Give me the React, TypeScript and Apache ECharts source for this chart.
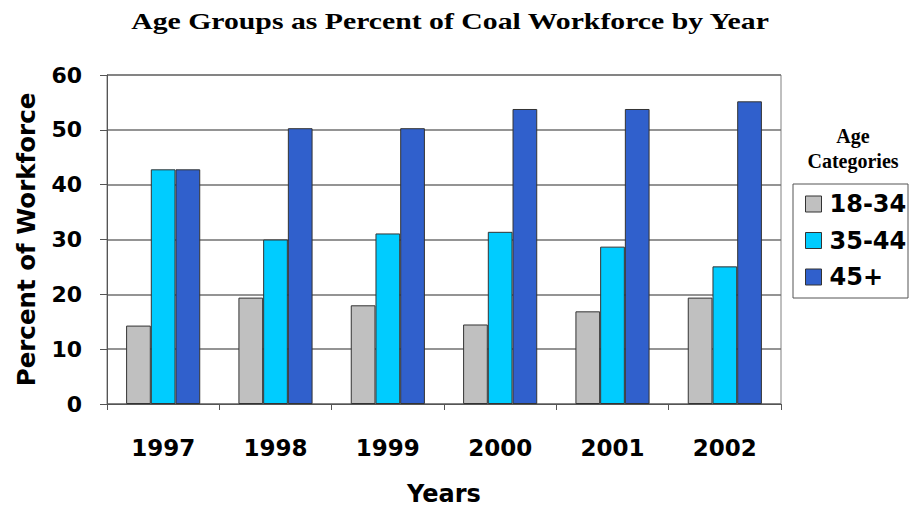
import React, { useEffect, useRef } from "react";
import * as echarts from "echarts";

const years = ["1997", "1998", "1999", "2000", "2001", "2002"];
const seriesNames = ["18-34", "35-44", "45+"];
const age18to34 = [14.3, 19.4, 18.0, 14.5, 16.9, 19.4];
const age35to44 = [42.8, 30.0, 31.1, 31.4, 28.7, 25.1];
const age45plus = [42.8, 50.3, 50.3, 53.8, 53.8, 55.2];
const colors = ["#C0C0C0", "#00CCFF", "#3060CC"];

export default function App() {
  const ref = useRef<HTMLDivElement>(null);
  useEffect(() => {
    if (!ref.current) return;
    document.body.style.margin = "0";
    const chart = echarts.init(ref.current, undefined, { renderer: "svg" });
    const sansBold = { fontFamily: "DejaVu Sans", fontWeight: "bold" as const, color: "#000" };
    const values = [age18to34, age35to44, age45plus];
    chart.setOption({
      animation: false,
      backgroundColor: "#fff",
      grid: {
        left: 107,
        right: 131,
        top: 75,
        bottom: 104,
        outerBoundsMode: "none",
        containLabel: false,
        show: true,
        borderColor: "#808080",
        borderWidth: 1,
      },
      xAxis: {
        type: "category",
        data: years,
        name: "Years",
        nameLocation: "middle",
        nameGap: 78,
        nameTextStyle: { ...sansBold, fontSize: 24 },
        axisLine: { lineStyle: { color: "#555" } },
        axisTick: { show: true, length: 6, lineStyle: { color: "#555" } },
        axisLabel: { ...sansBold, fontSize: 23, margin: 32 },
      },
      yAxis: {
        type: "value",
        min: 0,
        max: 60,
        interval: 10,
        name: "Percent of Workforce",
        nameLocation: "middle",
        nameGap: 68,
        nameTextStyle: { ...sansBold, fontSize: 24.5 },
        axisLine: { show: true, lineStyle: { color: "#555" } },
        axisTick: { show: true, length: 7, lineStyle: { color: "#555" } },
        axisLabel: { ...sansBold, fontSize: 22, margin: 25 },
        splitLine: { lineStyle: { color: "#707070", width: 1.5 } },
      },
      legend: {
        orient: "vertical",
        left: 805,
        top: 192,
        padding: 0,
        itemWidth: 16,
        itemHeight: 16,
        itemGap: 12.5,
        icon: "rect",
        itemStyle: { borderColor: "#333", borderWidth: 1 },
        textStyle: { ...sansBold, fontSize: 24, lineHeight: 24, padding: [0, 0, 0, 3] },
        data: seriesNames,
      },
      graphic: [
        {
          type: "text",
          x: 450,
          y: 21,
          scaleX: 1.24,
          style: {
            text: "Age Groups as Percent of Coal Workforce by Year",
            textAlign: "center",
            textVerticalAlign: "middle",
            font: "bold 24px 'Liberation Serif'",
            fill: "#000",
          },
        },
        {
          type: "rect",
          shape: { x: 793, y: 184, width: 115, height: 114 },
          style: { fill: "none", stroke: "#555", lineWidth: 1 },
        },
        {
          type: "text",
          x: 853,
          y: 123,
          style: {
            text: "Age\nCategories",
            textAlign: "center",
            font: "bold 20px 'Liberation Serif'",
            lineHeight: 25,
            fill: "#000",
          },
        },
      ],
      series: seriesNames.map((name, i) => ({
        name,
        type: "bar",
        data: values[i],
        barGap: "0%",
        barCategoryGap: "34%",
        itemStyle: { color: colors[i], borderColor: "#333", borderWidth: 1 },
      })),
    });
    return () => chart.dispose();
  }, []);
  return <div ref={ref} style={{ width: 912, height: 508 }} />;
}
